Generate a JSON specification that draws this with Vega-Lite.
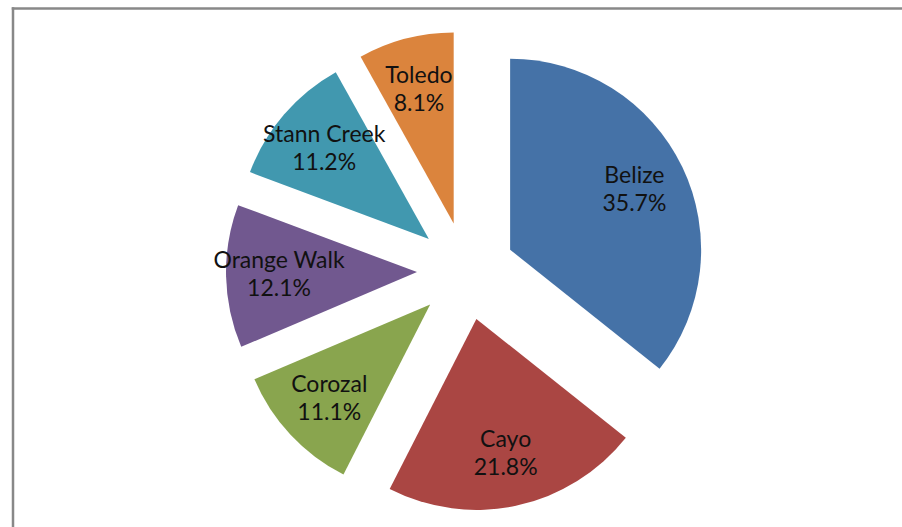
{
  "$schema": "https://vega.github.io/schema/vega-lite/v6.json",
  "width": 889.5,
  "height": 519,
  "padding": {"left": 12.5, "top": 8, "right": 0, "bottom": 0},
  "autosize": {"type": "none"},
  "background": "white",
  "config": {
    "view": {"stroke": null},
    "axis": {"labels": false, "ticks": false, "grid": false, "title": null, "domainColor": "#888888", "domainWidth": 2.5, "domainCap": "square"}
  },
  "data": {
    "values": [
      {"District": "Belize", "pct": 35.7},
      {"District": "Cayo", "pct": 21.8},
      {"District": "Corozal", "pct": 11.1},
      {"District": "Orange Walk", "pct": 12.1},
      {"District": "Stann Creek", "pct": 11.2},
      {"District": "Toledo", "pct": 8.1}
    ]
  },
  "transform": [
    {"window": [{"op": "sum", "field": "pct", "as": "cumEnd"}], "sort": [{"field": "District"}], "frame": [null, 0]},
    {"calculate": "datum.cumEnd - datum.pct", "as": "cumStart"},
    {"calculate": "(datum.cumStart + datum.cumEnd) / 2", "as": "mid"},
    {"calculate": "0.2565 * sin(datum.mid / 100 * 2 * PI)", "as": "dx"},
    {"calculate": "0.2565 * cos(datum.mid / 100 * 2 * PI)", "as": "dy"},
    {"calculate": "[datum.District, format(datum.pct, '.1f') + '%']", "as": "label"}
  ],
  "encoding": {
    "x": {"field": "dx", "type": "quantitative", "scale": {"domain": [-2.3743, 2.2827], "nice": false, "zero": false}, "axis": {"orient": "top"}},
    "y": {"field": "dy", "type": "quantitative", "scale": {"domain": [-1.3403, 1.377], "nice": false, "zero": false}, "axis": {"orient": "left"}}
  },
  "layer": [
    {
      "mark": {"type": "arc", "radius": 191},
      "encoding": {
        "theta": {"field": "cumStart", "type": "quantitative", "stack": null, "scale": {"domain": [0, 100]}},
        "theta2": {"field": "cumEnd"},
        "color": {
          "field": "District",
          "type": "nominal",
          "scale": {
            "domain": ["Belize", "Cayo", "Corozal", "Orange Walk", "Stann Creek", "Toledo"],
            "range": ["#4572A7", "#AA4643", "#89A54E", "#71588F", "#4198AF", "#DB843D"]
          },
          "legend": null
        }
      }
    },
    {
      "mark": {"type": "text", "radius": 138, "dy": -14, "font": "Lato", "fontSize": 23, "lineHeight": 28, "align": "center", "baseline": "middle", "color": "#111111"},
      "encoding": {
        "theta": {"field": "mid", "type": "quantitative", "stack": null, "scale": {"domain": [0, 100]}},
        "text": {"field": "label"}
      }
    }
  ]
}
